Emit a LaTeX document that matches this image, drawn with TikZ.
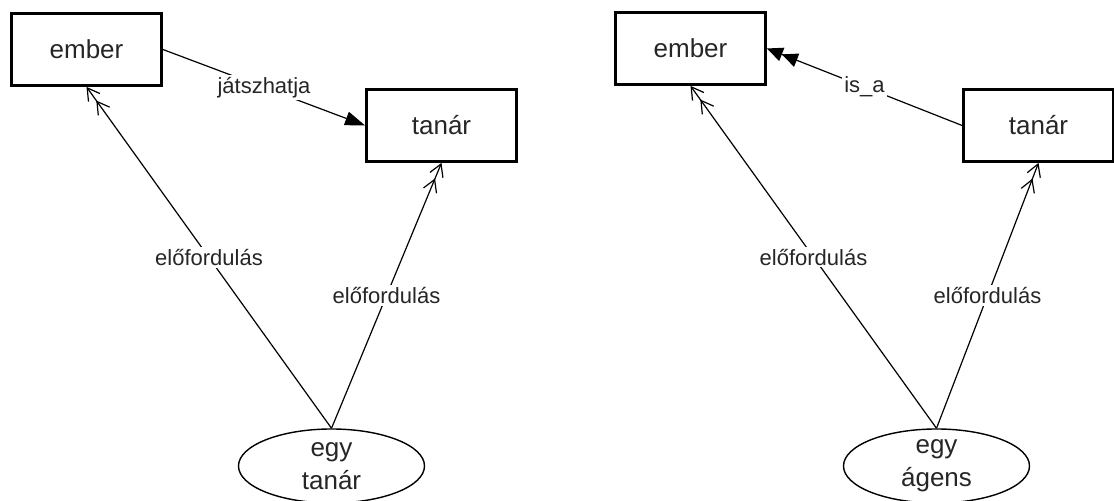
\documentclass[tikz,border=0pt]{standalone}
\usepackage{fontspec}
\setmainfont{Liberation Sans}
\usetikzlibrary{arrows.meta,shapes.geometric}
\begin{document}
\begin{tikzpicture}[x=0.5pt, y=-0.5pt,
    every node/.style={text=black!85},
    box/.style={draw, line width=1.4pt, minimum width=75pt, minimum height=36pt, font=\fontsize{13}{15.6}\selectfont},
    inst/.style={ellipse, draw, line width=0.7pt, minimum width=93pt, minimum height=37pt, inner xsep=0pt, inner ysep=-2pt, align=center, font=\fontsize{13}{16.5}\selectfont},
    lbl/.style={fill=white, inner sep=1pt, font=\fontsize{11}{13}\selectfont},
    occ/.style={line width=0.6pt, -{Straight Barb[length=6pt,width=7pt,sep=1.5pt]Straight Barb[length=6pt,width=7pt]}},
    rel/.style={line width=0.6pt, -{Triangle[length=10pt,width=7pt]}},
    isa/.style={line width=0.6pt, -{Triangle[length=8pt,width=7pt,sep=0pt]Triangle[length=8pt,width=7pt]}}]
  \useasboundingbox (0,0) rectangle (1114,501);

  % left diagram
  \node[box] (ember1) at (86.5,49.5) {ember};
  \node[box] (tanar1) at (441.5,125.5) {tanár};
  \node[inst] (egy1) at (331.5,466) {egy\\tanár};
  \draw[rel] (ember1.east) -- node[lbl] (jatsz) {játszhatja} (tanar1.west);
  \draw[occ] (egy1.north) -- node[lbl] (elo1) {előfordulás} (ember1.south);
  \draw[occ] (egy1.north) -- node[lbl] (elo2) {előfordulás} (tanar1.south);

  % right diagram
  \node[box] (ember2) at (690.5,48.5) {ember};
  \node[box] (tanar2) at (1038.5,125.5) {tanár};
  \node[inst] (egy2) at (936.5,466) {egy\\ágens};
  \draw[isa] (tanar2.west) -- node[lbl] (isa) {is\_a} (ember2.east);
  \draw[occ] (egy2.north) -- node[lbl] (elo3) {előfordulás} (ember2.south);
  \draw[occ] (egy2.north) -- node[lbl] (elo4) {előfordulás} (tanar2.south);
\end{tikzpicture}
\end{document}
